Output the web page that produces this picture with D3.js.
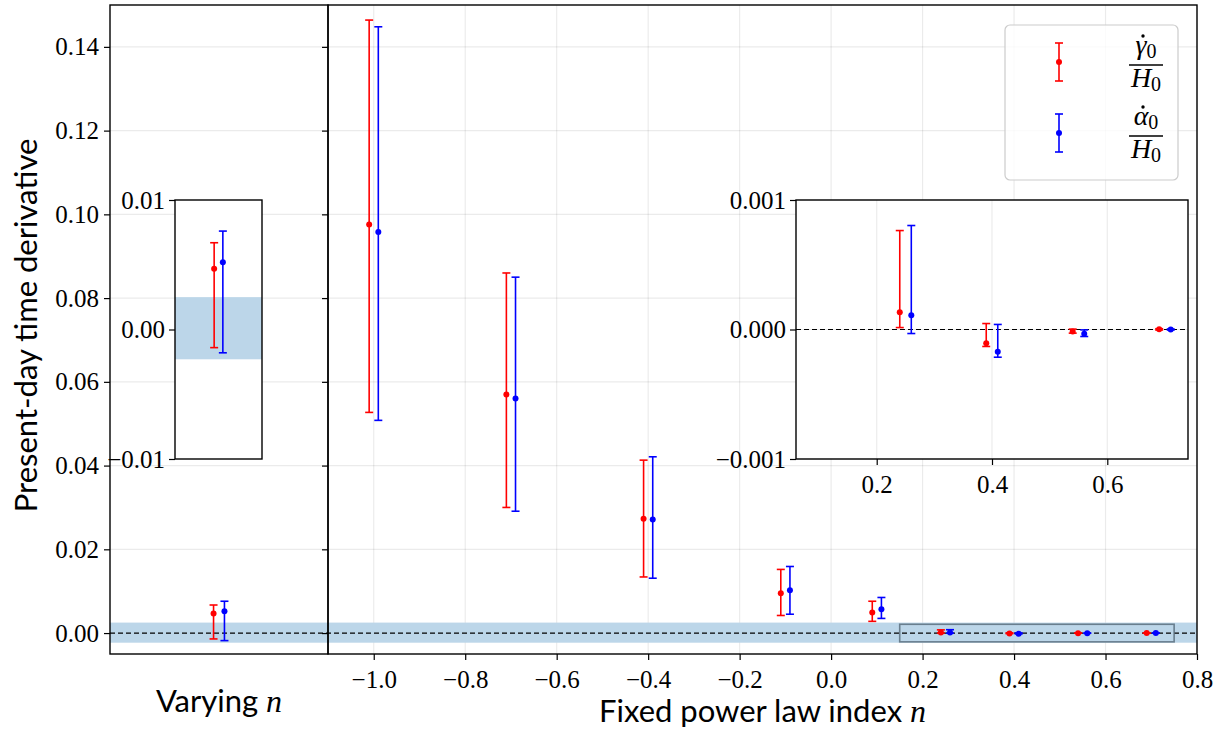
<!DOCTYPE html>
<html>
<head>
<meta charset="utf-8">
<script src="https://cdn.jsdelivr.net/npm/d3@7"></script>
<style>
	body { margin: 0; background: #fff; }
</style>
</head>
<body>
<div id="chart"></div>
<script>
// fixed power law index runs
const nFixed = [-1.0, -0.7, -0.4, -0.1, 0.1, 0.25, 0.4, 0.55, 0.7];
const gammaVal = [0.0976, 0.0570, 0.0273, 0.0095, 0.0049, 0.000134, -0.000106, -0.000015, 0.000001];
const gammaLo = [0.0527, 0.0300, 0.0134, 0.0042, 0.0028, 0.000015, -0.000131, -0.000028, -0.000004];
const gammaHi = [0.1464, 0.0860, 0.0413, 0.0152, 0.0076, 0.000764, 0.000046, 0.000003, 0.000006];
const alphaVal = [0.0958, 0.0560, 0.0271, 0.0102, 0.0057, 0.000111, -0.000172, -0.000033, 0.000000];
const alphaLo = [0.0508, 0.0291, 0.0131, 0.0045, 0.0035, -0.000031, -0.000214, -0.000054, -0.000004];
const alphaHi = [0.1448, 0.0850, 0.0421, 0.0159, 0.0085, 0.000803, 0.000039, -0.000003, 0.000004];

// varying n run: [value, lower, upper]
const gammaVar = [0.0047, -0.0014, 0.0067];
const alphaVar = [0.0052, -0.0018, 0.0076];

const band = [-0.0023, 0.0025];
const zoomBox = { x: [0.15, 0.75], y: [-0.0021, 0.0021] };

const yTicks = [0, 0.02, 0.04, 0.06, 0.08, 0.10, 0.12, 0.14];
const xTicks = [-1.0, -0.8, -0.6, -0.4, -0.2, 0.0, 0.2, 0.4, 0.6, 0.8];
const insetRTicksX = [0.2, 0.4, 0.6];
const insetRTicksY = [-0.001, 0, 0.001];
const insetLTicksY = [-0.01, 0, 0.01];

const RED = "#ff0000", BLUE = "#0000ff", BAND = "rgb(188,214,233)";
const SERIF = '"Liberation Serif"';
const SANS = '"Lato"';
const offset = 0.01;
const tickFont = 25;

const W = 1222, H = 729;
const svg = d3.select("#chart").append("svg").attr("width", W).attr("height", H);

const yTop = 5, yBottom = 654;
const leftX0 = 110, split = 328, rightX1 = 1197;

const y = d3.scaleLinear().domain([-0.005, 0.15]).range([yBottom, yTop]);
const xMain = d3.scaleLinear().domain([-1.1, 0.8]).range([split, rightX1]);
const xLeft = d3.scaleLinear().domain([-1, 1]).range([leftX0, split]);

const minus = (s) => s.replace("-", "\u2212");

// grid
const grid = svg.append("g").attr("stroke", "#000").attr("stroke-opacity", 0.08).attr("stroke-width", 1.2);
grid.selectAll("line.h").data(yTicks).enter().append("line")
	.attr("x1", leftX0).attr("x2", rightX1)
	.attr("y1", d => y(d)).attr("y2", d => y(d));
grid.selectAll("line.v").data(xTicks).enter().append("line")
	.attr("x1", d => xMain(d)).attr("x2", d => xMain(d))
	.attr("y1", yTop).attr("y2", yBottom);

// shaded band and zero line
svg.append("rect").attr("x", leftX0).attr("width", rightX1 - leftX0)
	.attr("y", y(band[1])).attr("height", y(band[0]) - y(band[1])).attr("fill", BAND);
svg.append("line").attr("x1", leftX0).attr("x2", rightX1).attr("y1", y(0)).attr("y2", y(0))
	.attr("stroke", "#000").attr("stroke-width", 1.2).attr("stroke-dasharray", "5,3");

// zoom indicator
svg.append("rect")
	.attr("x", xMain(zoomBox.x[0])).attr("width", xMain(zoomBox.x[1]) - xMain(zoomBox.x[0]))
	.attr("y", y(zoomBox.y[1])).attr("height", y(zoomBox.y[0]) - y(zoomBox.y[1]))
	.attr("fill", "none").attr("stroke", "#5a6f7e").attr("stroke-opacity", 0.85).attr("stroke-width", 1.6);

function errorbars(g, xs, vals, los, his, xs_, ys_, color, cap) {
	const rows = xs.map((x, i) => ({ x: x, v: vals[i], lo: los[i], hi: his[i] }));
	const e = g.append("g").selectAll("g").data(rows).enter().append("g")
		.attr("stroke", color).attr("fill", color);
	e.append("line").attr("x1", d => xs_(d.x)).attr("x2", d => xs_(d.x))
		.attr("y1", d => ys_(d.lo)).attr("y2", d => ys_(d.hi)).attr("stroke-width", 1.6);
	e.append("line").attr("x1", d => xs_(d.x) - cap).attr("x2", d => xs_(d.x) + cap)
		.attr("y1", d => ys_(d.lo)).attr("y2", d => ys_(d.lo)).attr("stroke-width", 1.6);
	e.append("line").attr("x1", d => xs_(d.x) - cap).attr("x2", d => xs_(d.x) + cap)
		.attr("y1", d => ys_(d.hi)).attr("y2", d => ys_(d.hi)).attr("stroke-width", 1.6);
	e.append("circle").attr("cx", d => xs_(d.x)).attr("cy", d => ys_(d.v)).attr("r", 3).attr("stroke", "none");
}

const marks = svg.append("g");
errorbars(marks, nFixed.map(n => n - offset), gammaVal, gammaLo, gammaHi, xMain, y, RED, 4);
errorbars(marks, nFixed.map(n => n + offset), alphaVal, alphaLo, alphaHi, xMain, y, BLUE, 4);
errorbars(marks, [-0.05], [gammaVar[0]], [gammaVar[1]], [gammaVar[2]], xLeft, y, RED, 4);
errorbars(marks, [0.05], [alphaVar[0]], [alphaVar[1]], [alphaVar[2]], xLeft, y, BLUE, 4);

// frames
const frame = svg.append("g").attr("fill", "none").attr("stroke", "#000").attr("stroke-width", 1.4);
frame.append("rect").attr("x", leftX0).attr("y", yTop).attr("width", split - leftX0).attr("height", yBottom - yTop);
frame.append("rect").attr("x", split).attr("y", yTop).attr("width", rightX1 - split).attr("height", yBottom - yTop);

function styleAxis(a) {
	a.attr("font-family", null).attr("font-size", null);
	a.select(".domain").remove();
	a.selectAll(".tick line").attr("stroke", "#000").attr("stroke-width", 1.2);
	a.selectAll("text").attr("fill", "#000")
		.style("font-family", SERIF).style("font-size", tickFont + "px");
}

// axes
svg.append("g").attr("transform", `translate(${leftX0},0)`)
	.call(d3.axisLeft(y).tickValues(yTicks).tickFormat(d => d3.format(".2f")(d)).tickSize(6).tickPadding(5))
	.call(styleAxis);
svg.append("g").attr("transform", `translate(${split},0)`)
	.call(d3.axisLeft(y).tickValues(yTicks).tickFormat("").tickSize(6))
	.call(styleAxis);
svg.append("g").attr("transform", `translate(0,${yBottom})`)
	.call(d3.axisBottom(xMain).tickValues(xTicks).tickFormat(d => minus(d3.format(".1f")(d))).tickSize(6).tickPadding(10))
	.call(styleAxis);

// axis labels
function label(x, yy, main, rot) {
	const t = svg.append("text").attr("text-anchor", "middle")
		.style("font-family", SANS).style("font-size", "31px");
	if (rot) t.attr("transform", `translate(${x},${yy}) rotate(-90)`);
	else t.attr("x", x).attr("y", yy);
	t.append("tspan").text(main);
	return t;
}
label(37, (yTop + yBottom) / 2 - 4, "Present-day time derivative", true);
label((leftX0 + split) / 2, 712, "Varying ", false)
	.append("tspan").style("font-family", SERIF).style("font-style", "italic").style("font-size", "32px").text("n");
label((split + rightX1) / 2, 722, "Fixed power law index ", false)
	.append("tspan").style("font-family", SERIF).style("font-style", "italic").style("font-size", "32px").text("n");

// left inset
const li = { x0: 175, x1: 262, y0: 200, y1: 459 };
const liX = d3.scaleLinear().domain([-0.5, 0.5]).range([li.x0, li.x1]);
const liY = d3.scaleLinear().domain([-0.01, 0.01]).range([li.y1, li.y0]);
const gL = svg.append("g");
gL.append("rect").attr("x", li.x0).attr("y", li.y0).attr("width", li.x1 - li.x0).attr("height", li.y1 - li.y0).attr("fill", "#fff");
gL.append("rect").attr("x", li.x0).attr("width", li.x1 - li.x0)
	.attr("y", liY(band[1])).attr("height", liY(band[0]) - liY(band[1])).attr("fill", BAND);
errorbars(gL, [-0.05], [gammaVar[0]], [gammaVar[1]], [gammaVar[2]], liX, liY, RED, 4);
errorbars(gL, [0.05], [alphaVar[0]], [alphaVar[1]], [alphaVar[2]], liX, liY, BLUE, 4);
gL.append("rect").attr("x", li.x0).attr("y", li.y0).attr("width", li.x1 - li.x0).attr("height", li.y1 - li.y0)
	.attr("fill", "none").attr("stroke", "#000").attr("stroke-width", 1.4);
gL.append("g").attr("transform", `translate(${li.x0},0)`)
	.call(d3.axisLeft(liY).tickValues(insetLTicksY).tickFormat(d => minus(d3.format(".2f")(d))).tickSize(6).tickPadding(4))
	.call(styleAxis);

// right inset
const ri = { x0: 796, x1: 1188, y0: 200, y1: 459 };
const riX = d3.scaleLinear().domain([0.06, 0.74]).range([ri.x0, ri.x1]);
const riY = d3.scaleLinear().domain([-0.001, 0.001]).range([ri.y1, ri.y0]);
const gR = svg.append("g");
gR.append("rect").attr("x", ri.x0).attr("y", ri.y0).attr("width", ri.x1 - ri.x0).attr("height", ri.y1 - ri.y0).attr("fill", "#fff");
const rg = gR.append("g").attr("stroke", "#000").attr("stroke-opacity", 0.08).attr("stroke-width", 1.2);
rg.selectAll("line.v").data(insetRTicksX).enter().append("line")
	.attr("x1", d => riX(d)).attr("x2", d => riX(d)).attr("y1", ri.y0).attr("y2", ri.y1);
rg.selectAll("line.h").data(insetRTicksY).enter().append("line")
	.attr("x1", ri.x0).attr("x2", ri.x1).attr("y1", d => riY(d)).attr("y2", d => riY(d));
gR.append("line").attr("x1", ri.x0).attr("x2", ri.x1).attr("y1", riY(0)).attr("y2", riY(0))
	.attr("stroke", "#000").attr("stroke-width", 1.2).attr("stroke-dasharray", "5,3");
const inZoom = nFixed.map((n, i) => i).filter(i => nFixed[i] > zoomBox.x[0] && nFixed[i] < zoomBox.x[1]);
const pick = (arr) => inZoom.map(i => arr[i]);
errorbars(gR, pick(nFixed).map(n => n - offset), pick(gammaVal), pick(gammaLo), pick(gammaHi), riX, riY, RED, 4);
errorbars(gR, pick(nFixed).map(n => n + offset), pick(alphaVal), pick(alphaLo), pick(alphaHi), riX, riY, BLUE, 4);
gR.append("rect").attr("x", ri.x0).attr("y", ri.y0).attr("width", ri.x1 - ri.x0).attr("height", ri.y1 - ri.y0)
	.attr("fill", "none").attr("stroke", "#000").attr("stroke-width", 1.4);
gR.append("g").attr("transform", `translate(${ri.x0},0)`)
	.call(d3.axisLeft(riY).tickValues(insetRTicksY).tickFormat(d => minus(d3.format(".3f")(d))).tickSize(6).tickPadding(4))
	.call(styleAxis);
gR.append("g").attr("transform", `translate(0,${ri.y1})`)
	.call(d3.axisBottom(riX).tickValues(insetRTicksX).tickFormat(d3.format(".1f")).tickSize(6).tickPadding(10))
	.call(styleAxis);

// legend
const lg = svg.append("g");
lg.append("rect").attr("x", 1005).attr("y", 25).attr("width", 173).attr("height", 155).attr("rx", 5)
	.attr("fill", "#fff").attr("fill-opacity", 0.8).attr("stroke", "#ccc").attr("stroke-width", 1.2);
const legendItems = [
	{ color: RED, sym: "\u03b3", cy: 62 },
	{ color: BLUE, sym: "\u03b1", cy: 133 }
];
const legendScale = d3.scaleLinear().domain([-1, 1]).range([-19, 19]);
legendItems.forEach(it => {
	const g = lg.append("g").attr("transform", `translate(1059,${it.cy})`);
	errorbars(g, [0], [0], [-1], [1], () => 0, d => legendScale(d), it.color, 4);
	const fx = 1146;
	const num = lg.append("text").attr("x", fx).attr("y", it.cy - 8).attr("text-anchor", "middle")
		.style("font-family", SERIF).style("font-size", "28px");
	num.append("tspan").style("font-style", "italic").text(it.sym);
	num.append("tspan").style("font-size", "20px").attr("dy", 4).text("0");
	const bb = num.node().getBBox();
	const symW = num.select("tspan").node().getComputedTextLength();
	lg.append("circle").attr("cx", bb.x + symW / 2 + 2).attr("cy", it.cy - 26).attr("r", 1.7).attr("fill", "#000");
	lg.append("line").attr("x1", fx - 17).attr("x2", fx + 17).attr("y1", it.cy + 3).attr("y2", it.cy + 3)
		.attr("stroke", "#000").attr("stroke-width", 1.5);
	const den = lg.append("text").attr("x", fx).attr("y", it.cy + 25).attr("text-anchor", "middle")
		.style("font-family", SERIF).style("font-size", "28px");
	den.append("tspan").style("font-style", "italic").text("H");
	den.append("tspan").style("font-size", "20px").attr("dy", 4).text("0");
});
</script>
</body>
</html>
